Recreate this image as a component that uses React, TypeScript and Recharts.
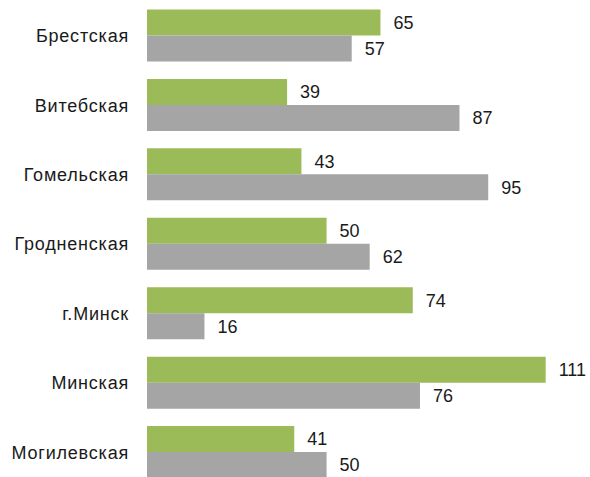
import React from 'react';
import { BarChart, Bar, XAxis, YAxis, LabelList } from 'recharts';

const categories = ['Брестская', 'Витебская', 'Гомельская', 'Гродненская', 'г.Минск', 'Минская', 'Могилевская'];
const greenValues = [65, 39, 43, 50, 74, 111, 41];
const grayValues = [57, 87, 95, 62, 16, 76, 50];

const data = categories.map((name, i) => ({ name, green: greenValues[i], gray: grayValues[i] }));

const FONT = '"Liberation Sans", Arial, sans-serif';

export default function App() {
  return (
    <div style={{ position: 'absolute', left: 0, top: 0, width: 590, height: 477, overflow: 'hidden', background: '#fff' }}>
      <BarChart
        width={590}
        height={487}
        data={data}
        layout="vertical"
        margin={{ top: 1, right: 12, bottom: 0, left: 0 }}
        barCategoryGap={8.5}
        barGap={0}
      >
        <XAxis type="number" domain={[0, 120]} hide />
        <YAxis
          type="category"
          dataKey="name"
          width={147}
          axisLine={false}
          tickLine={false}
          tickSize={0}
          tickMargin={18}
          interval={0}
          tick={{ fill: '#1a1a1a', fontSize: 18, fontFamily: FONT, letterSpacing: 0.8 }}
        />
        <Bar dataKey="green" fill="#9bbb59" isAnimationActive={false}>
          <LabelList dataKey="green" position="right" offset={13} fill="#1a1a1a" fontSize={18} fontFamily={FONT} />
        </Bar>
        <Bar dataKey="gray" fill="#a5a5a5" isAnimationActive={false}>
          <LabelList dataKey="gray" position="right" offset={13} fill="#1a1a1a" fontSize={18} fontFamily={FONT} />
        </Bar>
      </BarChart>
    </div>
  );
}
